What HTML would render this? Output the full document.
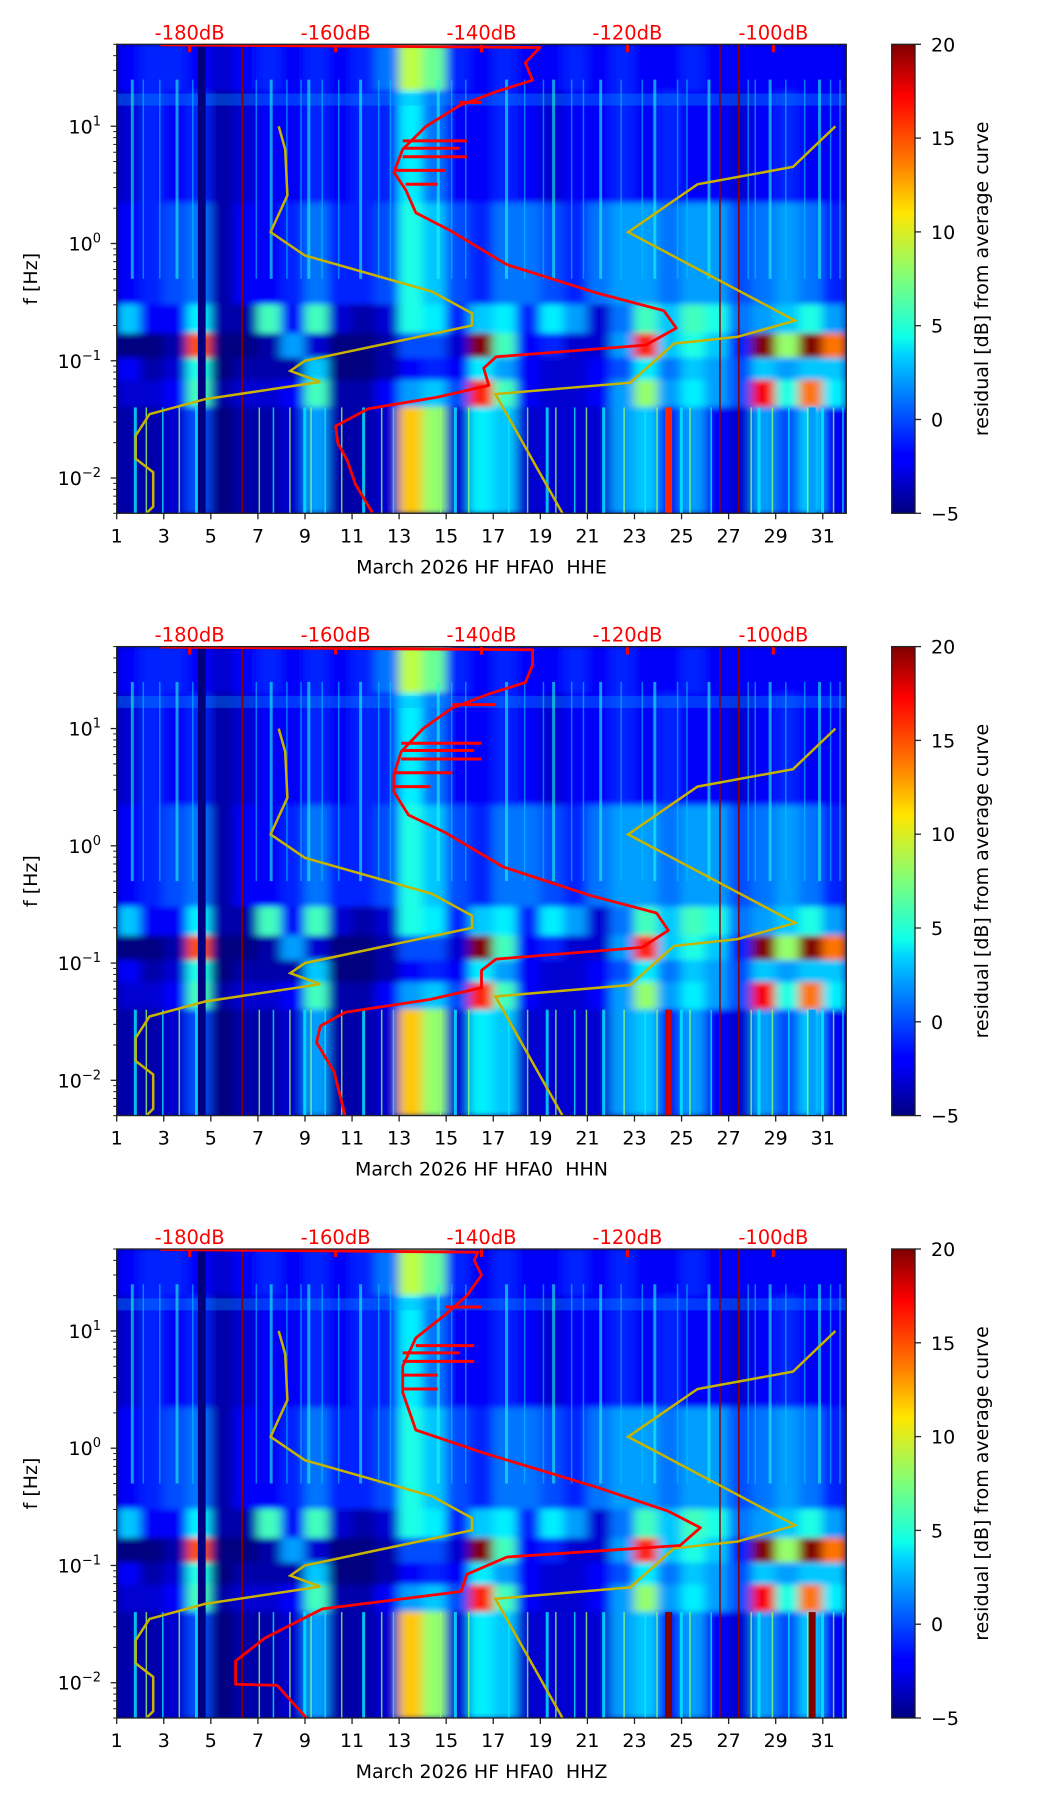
<!DOCTYPE html>
<html><head><meta charset="utf-8"><style>
html,body{margin:0;padding:0;background:#fff;}
svg{display:block;font-family:"DejaVu Sans","Liberation Sans",sans-serif;}
</style></head><body>
<svg id="fig" width="1052" height="1806" viewBox="0 0 1052 1806" xmlns="http://www.w3.org/2000/svg">
<defs>
<filter id="blur" x="-5%" y="-5%" width="110%" height="110%"><feGaussianBlur stdDeviation="5 3"/></filter>
<linearGradient id="jet" x1="0" y1="1" x2="0" y2="0">
<stop offset="0" stop-color="#00007f"/><stop offset="0.11" stop-color="#0000ff"/><stop offset="0.125" stop-color="#0000ff"/>
<stop offset="0.34" stop-color="#00d4ff"/><stop offset="0.375" stop-color="#0dffea"/><stop offset="0.5" stop-color="#7dff7a"/>
<stop offset="0.64" stop-color="#ffe600"/><stop offset="0.75" stop-color="#ff7a00"/><stop offset="0.89" stop-color="#ff0000"/><stop offset="1" stop-color="#7f0000"/>
</linearGradient>
</defs>
</svg>
<script>
// ---- data ----
const panelNames = ["HHE", "HHN", "HHZ"];
const days = [1,3,5,7,9,11,13,15,17,19,21,23,25,27,29,31];
const dbTicks = [-180,-160,-140,-120,-100];
const cbTicks = [20,15,10,5,0,-5];
const yDecades = [1,0,-1,-2];
const rowEdges = [50, 20, 2.2, 0.3, 0.17, 0.105, 0.068, 0.04, 0.005];
const row0 = [-2,-1,-1,-2,-3,-2,-1,-2,-1,-2,-1,1,9,7,-1,-2,-1,-2,-2,-1,-2,-1,-2,-2,-1,-2,-2,-2,-2,-2,-2];
const row1 = [-3,-1,-2,-1,-4,-3,-2,-2,-1,-2,-1,-1,4,1,-2,-2,-1,-2,-3,-2,-2,-1,-2,-1,-2,-2,-3,-2,-1,-2,-2];
const row2 = [-2,-1,0,1,-4,-2,-2,-1,1,-1,-1,0,5,3,0,-1,1,1,0,-1,1,2,2,1,2,2,0,1,2,1,-1];
const row3 = [3,-2,-2,4,-4,-4,6,-2,6,-3,-4,-3,5,4,-1,3,4,-1,4,2,-3,1,6,3,6,5,1,2,3,5,2];
const row4 = [-5,-5,-4,15,-5,-5,-4,2,-3,-5,-5,-4,0,0,-3,22,6,-2,-1,-3,-3,2,16,3,5,3,-1,22,8,20,14];
const row5 = [-2,-4,-3,5,-5,-4,-4,-4,3,-5,-5,-4,-2,-1,-2,4,2,-2,-3,-3,-2,0,4,1,3,2,0,3,2,3,3];
const row6 = [-3,-3,-2,6,-4,-3,-3,-2,6,-4,-4,-2,2,3,0,16,6,-2,-3,-3,-2,2,8,2,4,2,0,17,5,14,4];
const row7 = [-4,-4,-3,0,-5,-4,-4,-3,2,-4,-4,-3,12,8,-3,4,3,-3,-3,-3,-3,2,3,-1,2,-2,-3,2,0,3,-2];
const rows = [row0,row1,row2,row3,row4,row5,row6,row7];
const streakDays = [1.6,2.1,2.8,3.5,4.2,6.9,7.5,8.2,8.8,9.1,9.7,10.4,11.3,12.1,12.6,14.6,15.2,15.8,17.5,18.3,19.1,19.5,20.3,20.8,21.5,22.4,23.3,23.8,24.8,25.2,26.1,27.8,28.1,28.7,29.4,30.2,30.8,31.3,31.7];
const redColDays = [24.3, 30.4];
const redColVals = [[16,18,20],[2,2,20]];
const darkLineDays = [6.3, 26.6, 27.4];
// red PSD curves (freq Hz, dB)
const red1F = [49.5,47,34.8,24.7,19.7,15.0,10,6.36,4.04,2.88,1.83,1.30,0.66,0.375,0.267,0.19,0.136,0.108,0.0865,0.0616,0.049,0.039,0.0277,0.0198,0.0141,0.0089,0.0051];
const red1D = [-184,-132,-134,-133,-138,-143,-147.6,-150.8,-152,-150.4,-149,-144.4,-136.5,-124,-115,-113.3,-117.5,-138,-139.7,-139,-146,-155.5,-160,-159.7,-158.4,-157.3,-155];
const red2F = [49.5,47,34.8,24.7,19.7,15.0,10,6.36,4.04,2.88,1.83,1.30,0.66,0.375,0.267,0.19,0.136,0.108,0.0865,0.0616,0.049,0.038,0.029,0.021,0.0118,0.005];
const red2D = [-184,-133,-133,-134,-139,-144,-148,-151,-152,-152,-150,-145,-137,-125,-116,-114.4,-118,-138,-140,-140,-147,-158.7,-162.1,-162.6,-160.2,-158.7];
const red3F = [49.5,47,40,30,20,13.7,8.7,5,3,1.43,0.91,0.46,0.29,0.21,0.148,0.118,0.084,0.06,0.0426,0.024,0.0153,0.0097,0.0095,0.005];
const red3D = [-184,-140.5,-141,-140,-142,-145,-149,-150.8,-150.8,-149,-139.7,-124,-114.4,-110,-112.8,-136.5,-142,-142.8,-161.8,-169.7,-173.7,-173.7,-168,-164];
const spikeF = [16, 7.5, 6.5, 5.5, 4.2, 3.2];
const spikeD1 = [-140,-142,-143,-142,-145,-146];
const spikeD2 = [-138,-140,-141,-140,-144,-147];
const spikeD3 = [-140,-141,-143,-141,-146,-146];
// noise models
const nlnmF = [10,6.36,2.57,1.25,0.79,0.39,0.254,0.20,0.1,0.082,0.066,0.047,0.035,0.023,0.0146,0.0112,0.0057,0.0051];
const nlnmD = [-167.8,-166.9,-166.6,-168.9,-164.2,-146.8,-141.3,-141.3,-164.2,-166.2,-162.1,-177.9,-185.5,-187.4,-187.4,-185,-185,-185.8];
const nhnmF = [10,4.5,3.2,1.25,0.22,0.16,0.14,0.065,0.052,0.005];
const nhnmD = [-91.5,-97.3,-110.4,-119.9,-97,-104.9,-113.6,-119.6,-138.1,-128.9];
const reds = [[red1F,red1D,spikeD1],[red2F,red2D,spikeD2],[red3F,red3D,spikeD3]];

// ---- layout ----
const NS = "http://www.w3.org/2000/svg";
const svg = document.getElementById("fig");
const L = 116.7, W = 729.6, H = 469, tops = [44.3, 646.6, 1249];
const CBX = 891.7, CBW = 23.3;
function mk(tag, attrs, parent){ const e=document.createElementNS(NS,tag); for(const k in attrs) e.setAttribute(k,attrs[k]); (parent||svg).appendChild(e); return e; }
function jet(v){ let t=(v+5)/25; t=Math.max(0,Math.min(1,t));
  const c=x=>Math.round(255*Math.max(0,Math.min(1,x)));
  return `rgb(${c(1.5-Math.abs(4*t-3))},${c(1.5-Math.abs(4*t-2))},${c(1.5-Math.abs(4*t-1))})`; }

tops.forEach((T,p)=>{
  const xD = d => L + (d-1)*W/31;
  const yF = f => T + (Math.log10(50)-Math.log10(f))/4*H;
  const xDb = v => L + (v+190)*W/100;
  const clipId = "clip"+p;
  const cp = mk("clipPath",{id:clipId}); mk("rect",{x:L,y:T,width:W,height:H},cp);
  const panel = mk("g",{"clip-path":`url(#${clipId})`});
  
  
  mk("rect",{x:L,y:T,width:W,height:H,fill:"#00008f"},panel);
  const heat = mk("g",{filter:"url(#blur)"},panel);
  rows.forEach((row,ri)=>{
    const y0=yF(rowEdges[ri]), y1=yF(rowEdges[ri+1]);
    row.forEach((v,di)=>{
      const c = mk("rect",{x:xD(di+1)-0.5,y:y0-0.5,width:W/31+1,height:y1-y0+1,fill:jet(v)},heat);
      
      
    });
  });
  // light horizontal strip near 15-20 Hz
  mk("rect",{x:L,y:yF(19),width:W,height:yF(15)-yF(19),fill:jet(2),opacity:0.35},panel);
  // bright vertical streaks
  streakDays.forEach((d,i)=>{
    mk("rect",{x:xD(d),y:yF(25),width:i%3===0?3:1.5,height:yF(0.5)-yF(25),fill:jet(i%3===0?5:3),opacity:0.6},panel);
    mk("rect",{x:xD(d)+3,y:yF(0.04),width:i%4===0?3:1.5,height:yF(0.005)-yF(0.04),fill:jet(i%2?8:4),opacity:0.8},panel);
  });
  // red columns low freq
  redColDays.forEach((d,i)=>{
    const v = redColVals[i][p];
    mk("rect",{x:xD(d),y:yF(0.04),width:7,height:yF(0.005)-yF(0.04),fill:jet(v)},panel);
  });
  // dark navy column and dark red lines
  mk("rect",{x:xD(4.45),y:T,width:xD(4.78)-xD(4.45),height:H,fill:"#00007f"},panel);
  darkLineDays.forEach(d=>mk("rect",{x:xD(d),y:T,width:1.5,height:H,fill:"#8b0000"},panel));
  // noise models
  const pts=(F,D)=>F.map((f,i)=>`${xDb(D[i]).toFixed(1)},${yF(f).toFixed(1)}`).join(" ");
  const nl = mk("polyline",{points:pts(nlnmF,nlnmD),fill:"none",stroke:"#c8b400",'stroke-width':2.5},panel);
   
  const nh = mk("polyline",{points:pts(nhnmF,nhnmD),fill:"none",stroke:"#c8b400",'stroke-width':2.5},panel);
   
  // red psd
  const [rF,rD,sD]=reds[p];
  const rc = mk("polyline",{points:pts(rF,rD),fill:"none",stroke:"#ff0000",'stroke-width':2.8,'stroke-linejoin':'round'},panel);
   
  spikeF.forEach((f,i)=>{
    let base = rD[0];
    let best=1e9; rF.forEach((ff,j)=>{const d=Math.abs(Math.log10(ff)-Math.log10(f)); if(d<best){best=d;base=rD[j];}});
    mk("line",{x1:xDb(base),x2:xDb(sD[i]),y1:yF(f),y2:yF(f),stroke:"#ff0000",'stroke-width':3},panel);
  });
  // top red dB ticks/labels
  dbTicks.forEach(v=>{
    mk("rect",{x:xDb(v)-1.5,y:T,width:3,height:8,fill:"#ff0000"},panel);
    const t=mk("text",{x:xDb(v),y:T-5,'text-anchor':'middle','font-size':19.5,fill:"#ff0000"});
    t.textContent = v+"dB";
     
  });
  // frame
  mk("rect",{x:L,y:T,width:W,height:H,fill:"none",stroke:"#222",'stroke-width':1.3});
  // x ticks
  days.forEach(d=>{
    mk("line",{x1:xD(d),x2:xD(d),y1:T+H,y2:T+H+6,stroke:"#222",'stroke-width':1.3});
    const t=mk("text",{x:xD(d),y:T+H+29,'text-anchor':'middle','font-size':19});
    t.textContent=d;  
  });
  const xl=mk("text",{x:L+W/2,y:T+H+60,'text-anchor':'middle','font-size':19});
  xl.textContent="March 2026 HF HFA0\u00a0\u00a0"+panelNames[p];
   
  // y ticks
  yDecades.forEach(e=>{
    const y=yF(Math.pow(10,e));
    mk("line",{x1:L-6,x2:L,y1:y,y2:y,stroke:"#222",'stroke-width':1.3});
    const t=mk("text",{x:101,y:y+7,'text-anchor':'end','font-size':19});
    t.innerHTML = `10<tspan dy="-8" font-size="13">${e<0?"\u2212"+(-e):e}</tspan>`;
     
  });
  for(let e=-3;e<=1;e++) for(let m=2;m<=9;m++){
    const f=m*Math.pow(10,e); if(f<0.005||f>50) continue;
    const y=yF(f); mk("line",{x1:L-3.5,x2:L,y1:y,y2:y,stroke:"#222",'stroke-width':1});
  }
  const yl=mk("text",{x:0,y:0,'text-anchor':'middle','font-size':19,transform:`translate(37,${T+H/2}) rotate(-90)`});
  yl.textContent="f [Hz]";  
  // colorbar
  const cb=mk("rect",{x:CBX,y:T,width:CBW,height:H,fill:"url(#jet)",stroke:"#222",'stroke-width':1.3});
   
  cbTicks.forEach(v=>{
    const y=T+(20-v)/25*H;
    mk("line",{x1:CBX+CBW,x2:CBX+CBW+6,y1:y,y2:y,stroke:"#222",'stroke-width':1.3});
    const t=mk("text",{x:CBX+CBW+16,y:y+7,'font-size':19});
    t.textContent = v<0 ? "\u2212"+(-v) : v;
     
  });
  const cl=mk("text",{x:0,y:0,'text-anchor':'middle','font-size':19,transform:`translate(988,${T+H/2}) rotate(-90)`});
  cl.textContent="residual [dB] from average curve";
   
});
</script>
</body></html>
